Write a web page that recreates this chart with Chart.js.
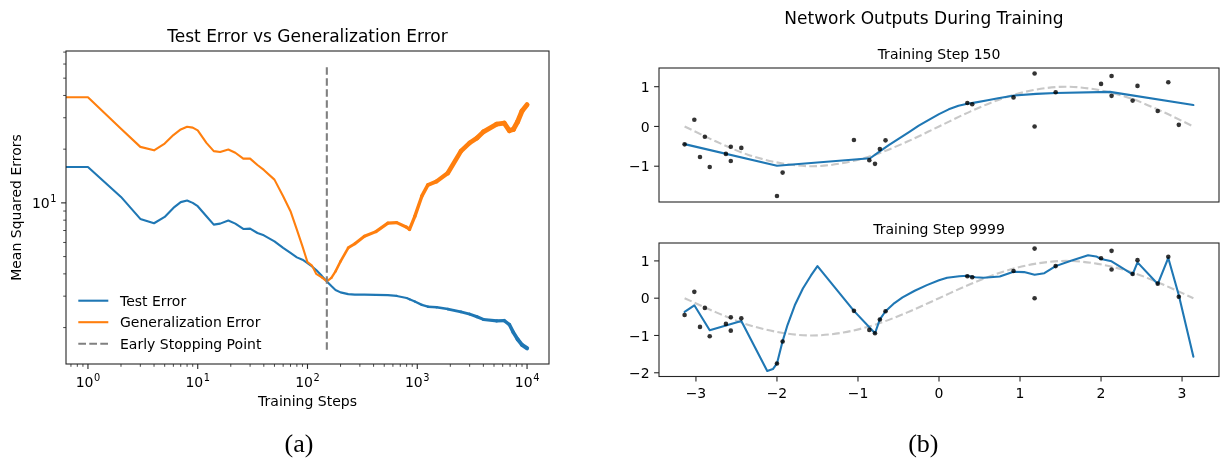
<!DOCTYPE html>
<html>
<head>
<meta charset="utf-8">
<title>Test error vs generalization error</title>
<script src="https://cdn.jsdelivr.net/npm/chart.js@4.4.1/dist/chart.umd.min.js"></script>
<style>
  html, body { margin: 0; padding: 0; background: #fff; }
  #figure { position: relative; width: 1225px; height: 466px; overflow: hidden; }
  #figure canvas { position: absolute; left: 0; top: 0; }
</style>
</head>
<body>
<div id="figure">
  <canvas id="errors" width="1225" height="466"></canvas>
  <canvas id="step150" width="1225" height="466"></canvas>
  <canvas id="step9999" width="1225" height="466"></canvas>
</div>
<script>
// ---- (a) errors over training ----
const steps = [0, 1, 2, 3, 4, 5, 6, 7, 8, 9, 10,
  12, 14, 16, 19, 22, 26, 30, 35, 40,
  50, 60, 70, 80, 90, 100,
  110, 120, 135, 150, 165, 180, 200,
  235, 270, 330, 420, 540, 650,
  800, 850, 950, 1100, 1250, 1500, 1900,
  2500, 3000, 3500, 4000, 5300, 6200, 6900, 7500, 8200, 9000, 9999];
const testError = [15.9, 15.9, 10.8, 8.13, 7.69, 8.34, 9.37, 10.1, 10.3, 10.0, 9.58,
  8.41, 7.55, 7.65, 7.96, 7.65, 7.14, 7.17, 6.78, 6.58,
  6.09, 5.59, 5.24, 4.95, 4.8, 4.6,
  4.4, 4.2, 3.9, 3.63, 3.42, 3.25, 3.15,
  3.08, 3.06, 3.06, 3.05, 3.04, 3.01,
  2.93, 2.88, 2.8, 2.68, 2.62, 2.6, 2.54,
  2.45, 2.38, 2.3, 2.22, 2.18, 2.19, 2.08, 1.88, 1.72, 1.6, 1.53];
const generalizationError = [39.1, 39.1, 26.0, 20.6, 19.7, 21.5, 24.0, 25.8, 26.7, 26.4, 25.5,
  21.7, 19.5, 19.3, 19.9, 19.1, 17.7, 17.7, 16.3, 15.3,
  13.5, 10.9, 8.98, 7.08, 5.71, 4.65,
  4.45, 4.0, 3.82, 3.63, 3.8, 4.13, 4.7,
  5.6, 5.9, 6.5, 6.9, 7.7, 7.75,
  7.3, 7.1, 8.4, 10.9, 12.6, 13.2, 14.7,
  19.5, 21.7, 23.1, 25.0, 27.6, 28.0, 25.4, 25.8, 28.5, 32.7, 35.5];
const stopStep = 150;
const stopSpan = [1.5, 58.6];
const stepTicks = [1, 10, 100, 1000, 10000];
const errorTicks = [10];

// ---- (b) network outputs ----
const sampleX = [-3.14, -3.02, -2.95, -2.89, -2.83, -2.63, -2.57, -2.57, -2.44, -2.0, -1.93,
  -1.05, -0.86, -0.79, -0.73, -0.66, 0.35, 0.41, 0.92, 1.18, 1.18, 1.44,
  2.0, 2.13, 2.13, 2.39, 2.45, 2.7, 2.83, 2.96];
const sampleY = [-0.45, 0.17, -0.77, -0.26, -1.02, -0.69, -0.51, -0.87, -0.54, -1.75, -1.16,
  -0.34, -0.85, -0.94, -0.57, -0.35, 0.59, 0.56, 0.73, 1.33, 0.0, 0.86,
  1.07, 1.27, 0.77, 0.65, 1.02, 0.39, 1.11, 0.04];
const targetX = [-3.14, -2.75, -2.36, -1.96, -1.57, -1.18, -0.79, -0.39, 0, 0.39, 0.79, 1.18, 1.57, 1.96, 2.36, 2.75, 3.14];
const targetY = [0, -0.38, -0.71, -0.92, -1, -0.92, -0.71, -0.38, 0, 0.38, 0.71, 0.92, 1, 0.92, 0.71, 0.38, 0];
const step150X = [-3.14, -2.0, -0.85, -0.74, -0.62, -0.5, -0.37, -0.25, -0.12, 0, 0.12,
  0.24, 0.35, 0.44, 0.6, 0.73, 0.93, 1.2, 1.44, 2.11, 3.14];
const step150Y = [-0.445, -0.99, -0.8, -0.64, -0.47, -0.31, -0.14, 0.02, 0.17, 0.31, 0.43,
  0.52, 0.57, 0.6, 0.66, 0.71, 0.78, 0.82, 0.84, 0.87, 0.54];
const step9999X = [-3.14, -3.02, -2.83, -2.44, -2.12, -2.05, -2.0, -1.93, -1.87, -1.78, -1.68,
  -1.58, -1.5, -1.05, -0.79, -0.73, -0.66, -0.55, -0.45, -0.3, -0.15, 0,
  0.1, 0.25, 0.35, 0.45, 0.55, 0.75, 0.92, 1.05, 1.18, 1.3, 1.44,
  1.62, 1.84, 1.94, 2.0, 2.13, 2.39, 2.45, 2.7, 2.83, 2.96, 3.14];
const step9999Y = [-0.37, -0.19, -0.86, -0.61, -1.95, -1.9, -1.75, -1.15, -0.72, -0.19, 0.26,
  0.61, 0.86, -0.34, -0.94, -0.57, -0.35, -0.13, 0.02, 0.2, 0.35, 0.48,
  0.55, 0.59, 0.6, 0.56, 0.55, 0.58, 0.71, 0.7, 0.63, 0.67, 0.86,
  1.0, 1.15, 1.12, 1.05, 0.99, 0.64, 0.96, 0.38, 1.08, 0.08, -1.57];
const inputTicks = [-3, -2, -1, 0, 1, 2, 3];
const outputTicks150 = [-1, 0, 1];
const outputTicks9999 = [-2, -1, 0, 1];

const BLUE = '#1f77b4';
const ORANGE = '#ff7f0e';
const INK = '#262626';
const SANS = '"DejaVu Sans", sans-serif';
const X_MIN = Math.pow(10, -0.2), X_MAX = Math.pow(10, 4.2);

const pts = (xs, ys) => xs.map((x, i) => ({ x: x, y: ys[i] }));
const fmt = v => (v < 0 ? '\u2212' + (-v) : String(v));

function text(ctx, str, x, y, size, align, family) {
  ctx.font = size + 'px ' + (family || SANS);
  ctx.textAlign = align || 'center';
  ctx.textBaseline = 'alphabetic';
  ctx.fillStyle = '#000';
  ctx.fillText(str, x, y);
}

// "10" with a raised exponent
function power(ctx, exp, x, y, align) {
  ctx.font = '14px ' + SANS;
  const wb = ctx.measureText('10').width;
  ctx.font = '9.8px ' + SANS;
  const we = ctx.measureText(String(exp)).width;
  const w = wb + 0.6 + we;
  const x0 = align === 'right' ? x - w : x - w / 2;
  text(ctx, '10', x0, y, 14, 'left');
  text(ctx, String(exp), x0 + wb + 0.6, y - 5.8, 9.8, 'left');
}

function seg(ctx, x1, y1, x2, y2, w) {
  ctx.lineWidth = w;
  ctx.strokeStyle = INK;
  ctx.beginPath();
  ctx.moveTo(x1, y1);
  ctx.lineTo(x2, y2);
  ctx.stroke();
}

function frame(ctx, a) {
  ctx.lineWidth = 1.1;
  ctx.strokeStyle = INK;
  ctx.strokeRect(a.left, a.top, a.right - a.left, a.bottom - a.top);
}

// 2..9 times each power of ten inside the range
function minorLog(lo, hi) {
  const out = [];
  for (let e = Math.floor(Math.log10(lo)); e <= Math.ceil(Math.log10(hi)); e++) {
    for (let m = 2; m <= 9; m++) {
      const v = m * Math.pow(10, e);
      if (v >= lo && v <= hi) out.push(v);
    }
  }
  return out;
}

const errorPanel = {
  id: 'errorPanel',
  afterDraw(chart) {
    const { ctx, chartArea: a, scales: { x, y } } = chart;
    ctx.save();
    frame(ctx, a);
    minorLog(x.min, x.max).forEach(v => {
      const px = x.getPixelForValue(v);
      seg(ctx, px, a.bottom, px, a.bottom + 2.8, 0.85);
    });
    stepTicks.forEach(v => {
      const px = x.getPixelForValue(v);
      seg(ctx, px, a.bottom, px, a.bottom + 4.9, 1.1);
      power(ctx, Math.round(Math.log10(v)), px, a.bottom + 22.7, 'center');
    });
    minorLog(y.min, y.max).forEach(v => {
      const py = y.getPixelForValue(v);
      seg(ctx, a.left - 2.8, py, a.left, py, 0.85);
    });
    errorTicks.forEach(v => {
      const py = y.getPixelForValue(v);
      seg(ctx, a.left - 4.9, py, a.left, py, 1.1);
      power(ctx, Math.round(Math.log10(v)), a.left - 9.4, py + 5.1, 'right');
    });

    const cx = (a.left + a.right) / 2;
    text(ctx, 'Test Error vs Generalization Error', cx, 42, 17);
    text(ctx, 'Training Steps', cx, 406.2, 14);
    ctx.save();
    ctx.translate(21, (a.top + a.bottom) / 2);
    ctx.rotate(-Math.PI / 2);
    text(ctx, 'Mean Squared Errors', 0, 0, 14);
    ctx.restore();

    // legend, lower left
    chart.data.datasets.forEach((ds, i) => {
      const ry = 300.7 + i * 21.5;
      ctx.strokeStyle = ds.borderColor;
      ctx.lineWidth = 2.1;
      ctx.setLineDash(ds.borderDash || []);
      ctx.beginPath();
      ctx.moveTo(a.left + 12.3, ry);
      ctx.lineTo(a.left + 42.3, ry);
      ctx.stroke();
      ctx.setLineDash([]);
      text(ctx, ds.label, a.left + 54, ry + 4.8, 14, 'left');
    });

    text(ctx, '(a)', 299, 452, 26, 'center', '"Liberation Serif", serif');
    ctx.restore();
  }
};

const outputPanel = {
  id: 'outputPanel',
  afterDraw(chart, args, opts) {
    const { ctx, chartArea: a, scales: { x, y } } = chart;
    ctx.save();
    frame(ctx, a);
    opts.yTicks.forEach(v => {
      const py = y.getPixelForValue(v);
      seg(ctx, a.left - 4.9, py, a.left, py, 1.1);
      text(ctx, fmt(v), a.left - 9.4, py + 5.1, 14, 'right');
    });
    (opts.xTicks || []).forEach(v => {
      const px = x.getPixelForValue(v);
      seg(ctx, px, a.bottom, px, a.bottom + 4.9, 1.1);
      text(ctx, fmt(v), px, a.bottom + 21.8, 14, 'center');
    });
    text(ctx, opts.title, (a.left + a.right) / 2, a.top - 9.5, 14);
    if (opts.heading) text(ctx, opts.heading, 924, 24, 17);
    if (opts.caption) text(ctx, opts.caption, 923.3, 452, 26, 'center', '"Liberation Serif", serif');
    ctx.restore();
  }
};

function baseOptions(padding, xScale, yScale) {
  return {
    responsive: false,
    animation: false,
    devicePixelRatio: 1,
    events: [],
    layout: { padding: padding },
    plugins: { legend: { display: false }, tooltip: { enabled: false }, title: { display: false } },
    scales: { x: xScale, y: yScale },
    elements: { point: { radius: 0 }, line: { tension: 0, borderCapStyle: 'round', borderJoinStyle: 'round' } }
  };
}

// stroke width grows with the noisy band of the later steps (piecewise in log step)
function ramp(stops) {
  return s => {
    const l = Math.log10(Math.max(s, 1));
    if (l <= stops[0][0]) return stops[0][1];
    for (let i = 1; i < stops.length; i++) {
      if (l <= stops[i][0]) {
        const [l0, w0] = stops[i - 1], [l1, w1] = stops[i];
        return w0 + (w1 - w0) * (l - l0) / (l1 - l0);
      }
    }
    return stops[stops.length - 1][1];
  };
}
const genWidth = ramp([[2.15, 2.1], [2.5, 3], [3, 3.3], [3.4, 4.6], [4, 5]]);
const testWidth = ramp([[2.9, 2.1], [3.4, 2.8], [3.8, 3.2], [4, 4.2]]);

const stepX = steps.map(s => Math.max(s, X_MIN)); // step 0 sits on the left edge of a log axis

new Chart(document.getElementById('errors'), {
  type: 'line',
  data: {
    datasets: [
      {
        label: 'Test Error',
        data: pts(stepX, testError),
        borderColor: BLUE,
        borderWidth: 2.1,
        order: 2,
        segment: { borderWidth: c => testWidth(steps[c.p1DataIndex]) }
      },
      {
        label: 'Generalization Error',
        data: pts(stepX, generalizationError),
        borderColor: ORANGE,
        borderWidth: 2.1,
        order: 1,
        segment: { borderWidth: c => genWidth(steps[c.p1DataIndex]) }
      },
      {
        label: 'Early Stopping Point',
        data: pts([stopStep, stopStep], stopSpan),
        borderColor: '#808080',
        borderWidth: 2.1,
        borderDash: [7.7, 3.3],
        borderCapStyle: 'butt',
        order: 0
      }
    ]
  },
  options: baseOptions({ left: 66, top: 51, right: 676, bottom: 102 },
    { type: 'logarithmic', display: false, min: X_MIN, max: X_MAX, bounds: 'data' },
    { type: 'logarithmic', display: false, min: 1.25, max: 71, bounds: 'data' }),
  plugins: [errorPanel]
});

function outputDatasets(netX, netY) {
  return [
    {
      label: 'samples',
      data: pts(sampleX, sampleY),
      showLine: false,
      pointRadius: 2.3,
      pointBorderWidth: 0,
      pointBackgroundColor: 'rgba(0,0,0,0.8)',
      order: 0
    },
    {
      label: 'network',
      data: pts(netX, netY),
      borderColor: BLUE,
      borderWidth: 2.1,
      order: 1
    },
    {
      label: 'target',
      data: pts(targetX, targetY),
      borderColor: '#c8c8c8',
      borderWidth: 2.1,
      borderDash: [7.7, 3.3],
      borderCapStyle: 'butt',
      cubicInterpolationMode: 'monotone',
      order: 2
    }
  ];
}

const opt150 = baseOptions({ left: 659, top: 68, right: 6, bottom: 264 },
  { type: 'linear', display: false, min: -3.456, max: 3.456, bounds: 'data' },
  { type: 'linear', display: false, min: -1.9, max: 1.47, bounds: 'data' });
opt150.plugins.outputPanel = { title: 'Training Step 150', yTicks: outputTicks150, heading: 'Network Outputs During Training' };

new Chart(document.getElementById('step150'), {
  type: 'line',
  data: { datasets: outputDatasets(step150X, step150Y) },
  options: opt150,
  plugins: [outputPanel]
});

const opt9999 = baseOptions({ left: 659, top: 243, right: 6, bottom: 89.5 },
  { type: 'linear', display: false, min: -3.456, max: 3.456, bounds: 'data' },
  { type: 'linear', display: false, min: -2.1, max: 1.48, bounds: 'data' });
opt9999.plugins.outputPanel = { title: 'Training Step 9999', yTicks: outputTicks9999, xTicks: inputTicks, caption: '(b)' };

new Chart(document.getElementById('step9999'), {
  type: 'line',
  data: { datasets: outputDatasets(step9999X, step9999Y) },
  options: opt9999,
  plugins: [outputPanel]
});
</script>
</body>
</html>
